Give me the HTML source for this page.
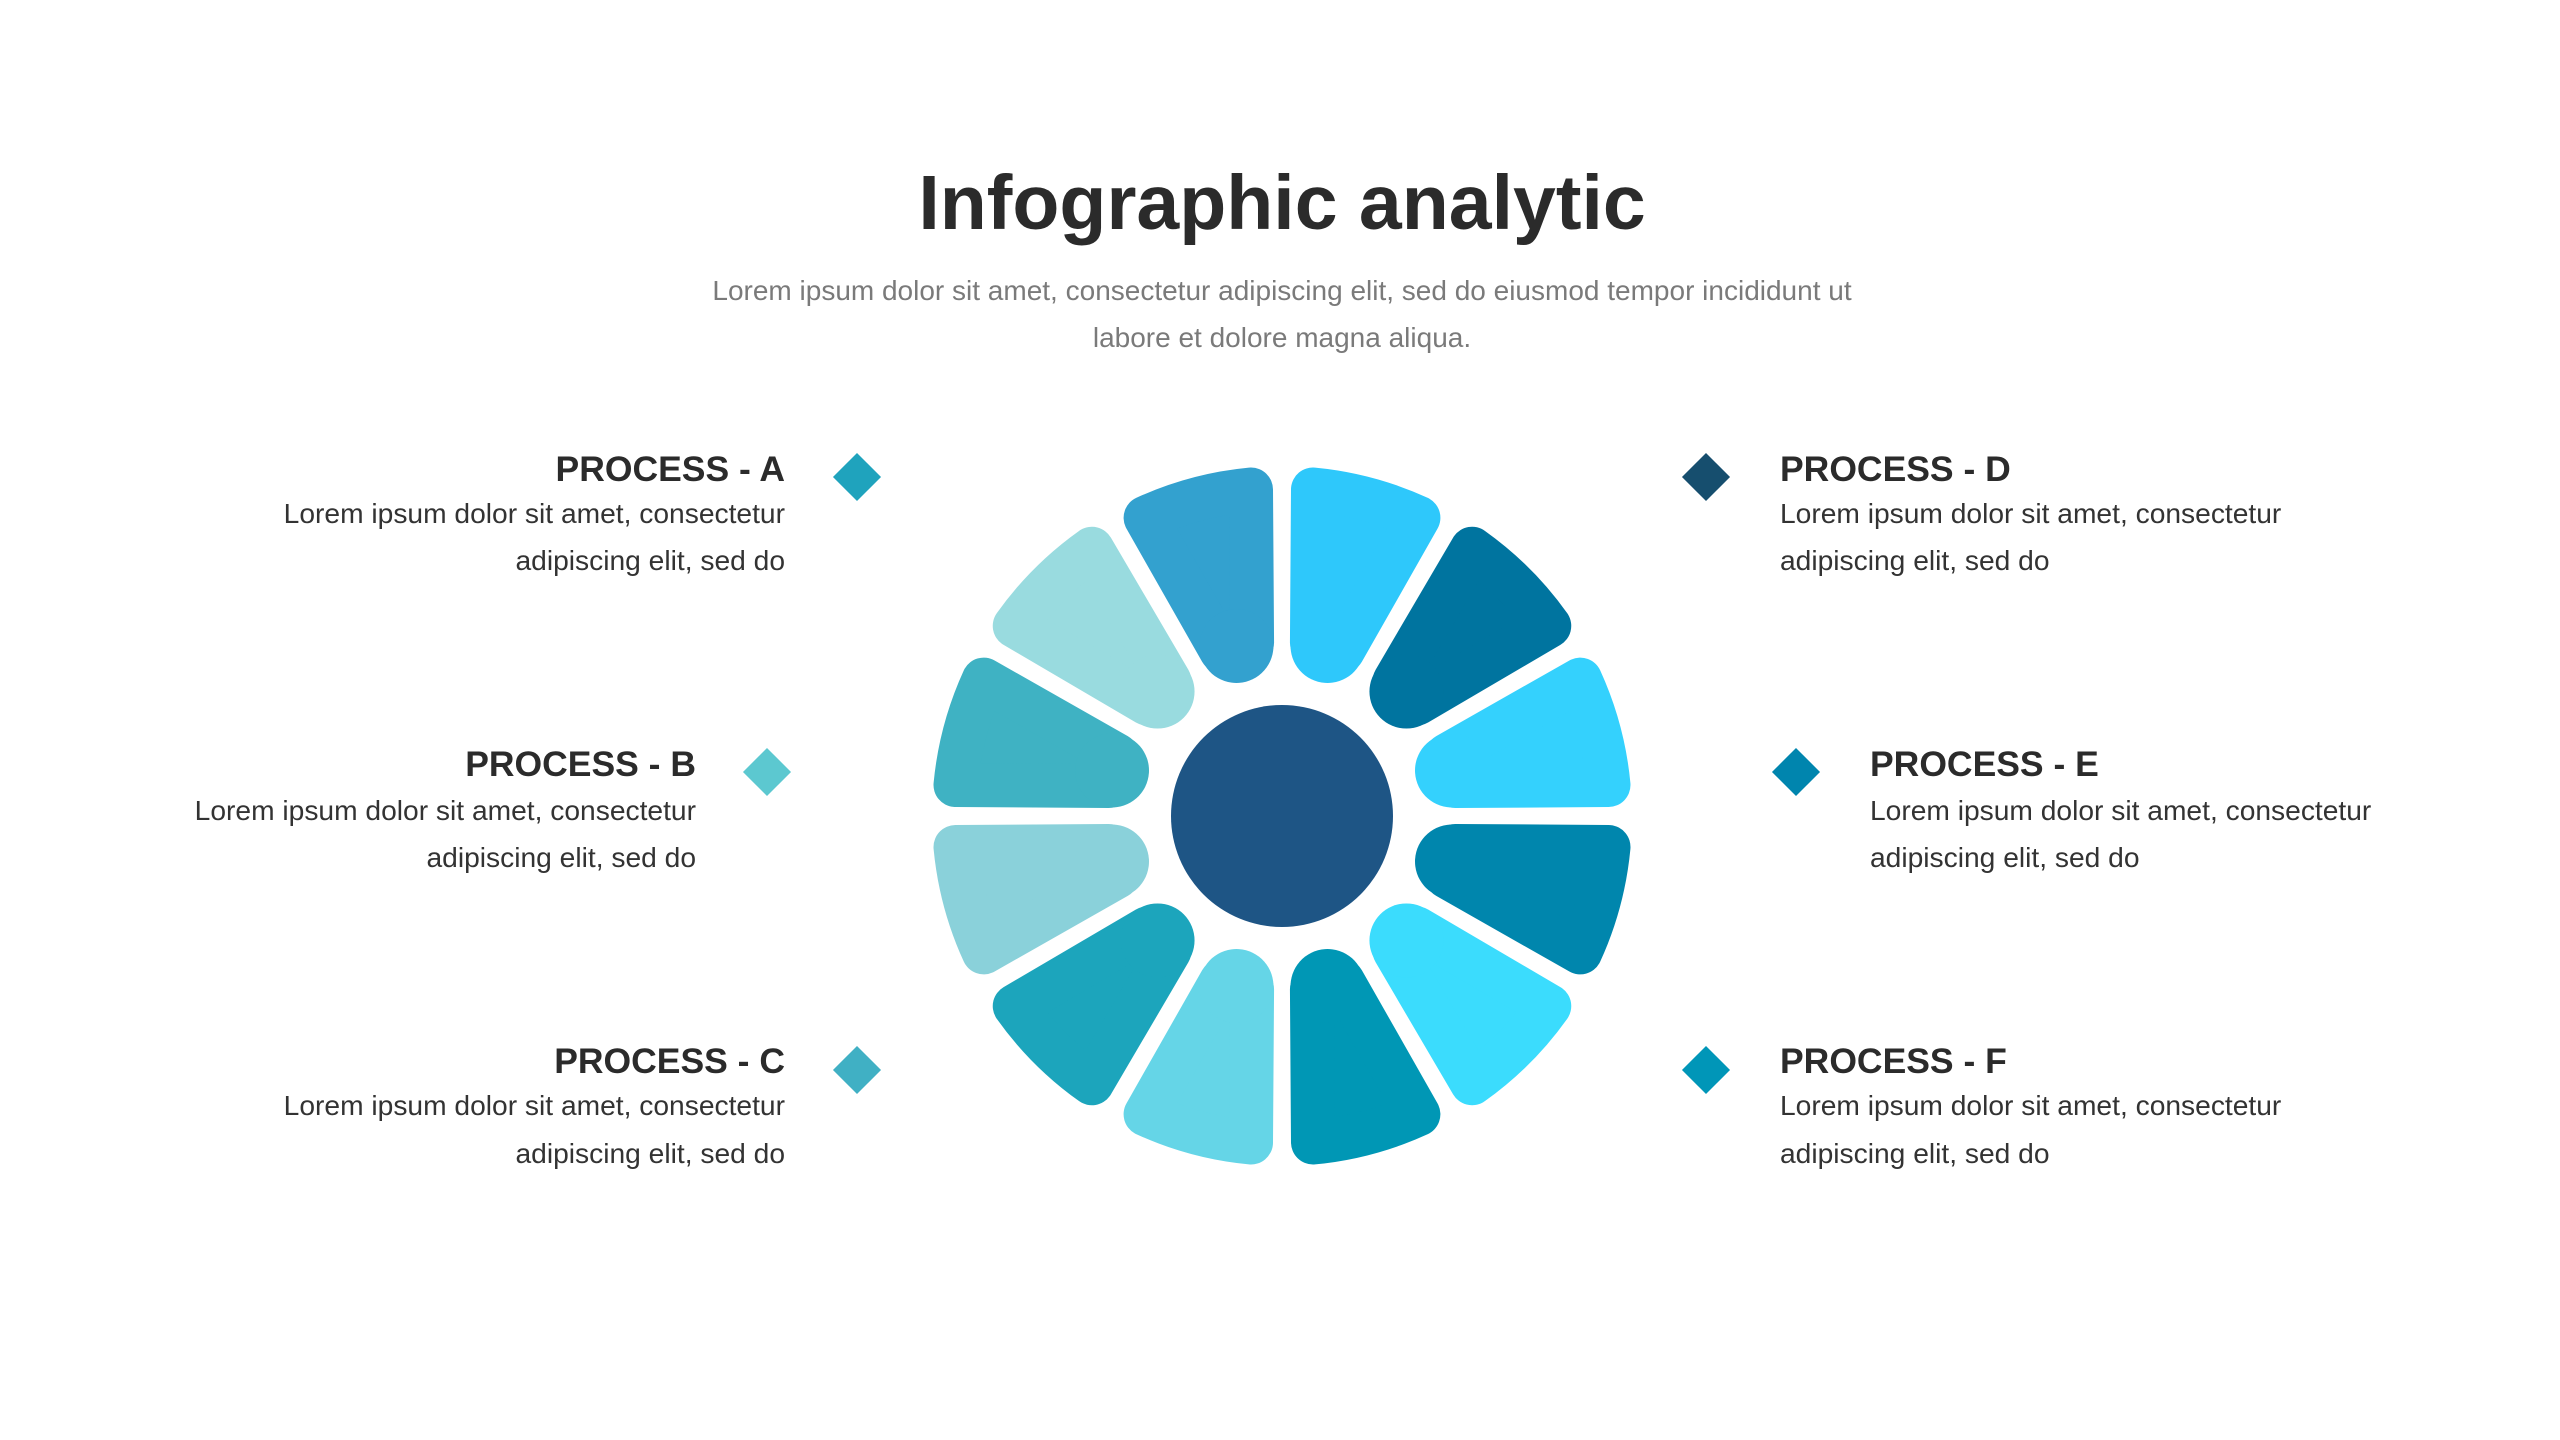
<!DOCTYPE html>
<html><head><meta charset="utf-8">
<style>
html,body{margin:0;padding:0;background:#fff;}
body{width:2560px;height:1440px;position:relative;overflow:hidden;font-family:"Liberation Sans",sans-serif;}
.t{position:absolute;white-space:nowrap;line-height:40px;}
.h{font-weight:bold;font-size:35.5px;color:#2b2b2b;}
.b{font-size:28.2px;color:#333;}
.r{text-align:right;}
.dm{position:absolute;width:34px;height:34px;transform:translate(-50%,-50%) rotate(45deg);}
</style></head><body>
<div class="t" style="left:0;width:2564px;text-align:center;top:163px;line-height:80px;font-size:77px;font-weight:bold;color:#2b2b2b;">Infographic analytic</div>
<div class="t" style="left:0;width:2564px;text-align:center;top:271px;font-size:28px;color:#7a7a7a;">Lorem ipsum dolor sit amet, consectetur adipiscing elit, sed do eiusmod tempor incididunt ut</div>
<div class="t" style="left:0;width:2564px;text-align:center;top:318px;font-size:28px;color:#7a7a7a;">labore et dolore magna aliqua.</div>

<div class="t h r" style="right:1775px;top:449px;">PROCESS - A</div>
<div class="t b r" style="right:1775px;top:493px;">Lorem ipsum dolor sit amet, consectetur</div>
<div class="t b r" style="right:1775px;top:540px;">adipiscing elit, sed do</div>

<div class="t h r" style="right:1864px;top:744px;">PROCESS - B</div>
<div class="t b r" style="right:1864px;top:790px;">Lorem ipsum dolor sit amet, consectetur</div>
<div class="t b r" style="right:1864px;top:837px;">adipiscing elit, sed do</div>

<div class="t h r" style="right:1775px;top:1041px;">PROCESS - C</div>
<div class="t b r" style="right:1775px;top:1085px;">Lorem ipsum dolor sit amet, consectetur</div>
<div class="t b r" style="right:1775px;top:1133px;">adipiscing elit, sed do</div>

<div class="t h" style="left:1780px;top:449px;">PROCESS - D</div>
<div class="t b" style="left:1780px;top:493px;">Lorem ipsum dolor sit amet, consectetur</div>
<div class="t b" style="left:1780px;top:540px;">adipiscing elit, sed do</div>

<div class="t h" style="left:1870px;top:744px;">PROCESS - E</div>
<div class="t b" style="left:1870px;top:790px;">Lorem ipsum dolor sit amet, consectetur</div>
<div class="t b" style="left:1870px;top:837px;">adipiscing elit, sed do</div>

<div class="t h" style="left:1780px;top:1041px;">PROCESS - F</div>
<div class="t b" style="left:1780px;top:1085px;">Lorem ipsum dolor sit amet, consectetur</div>
<div class="t b" style="left:1780px;top:1133px;">adipiscing elit, sed do</div>

<div class="dm" style="left:857px;top:477px;background:#1fa3bd;"></div>
<div class="dm" style="left:767px;top:772px;background:#5cc8d0;"></div>
<div class="dm" style="left:857px;top:1070px;background:#40b0c4;"></div>
<div class="dm" style="left:1706px;top:477px;background:#164e6e;"></div>
<div class="dm" style="left:1796px;top:772px;background:#0085ae;"></div>
<div class="dm" style="left:1706px;top:1070px;background:#0096b8;"></div>

<svg width="2560" height="1440" style="position:absolute;left:0;top:0;">
<defs>
<g id="p">
<path d="M -15.95 -175.2 L 15.95 -175.2 L 54.56 -323.39 A 328 328 0 0 0 -54.56 -323.39 Z" stroke-width="44" stroke-linejoin="round"/>
<circle cx="0" cy="-176" r="37" stroke="none"/>
</g>
</defs>
<g transform="translate(1282,816)">
<use href="#p" transform="rotate(15)" fill="#2ec8fb" stroke="#2ec8fb"/>
<use href="#p" transform="rotate(45)" fill="#00749f" stroke="#00749f"/>
<use href="#p" transform="rotate(75)" fill="#34d1fd" stroke="#34d1fd"/>
<use href="#p" transform="rotate(105)" fill="#0086ad" stroke="#0086ad"/>
<use href="#p" transform="rotate(135)" fill="#3bdcfd" stroke="#3bdcfd"/>
<use href="#p" transform="rotate(165)" fill="#0097b5" stroke="#0097b5"/>
<use href="#p" transform="rotate(195)" fill="#65d5e7" stroke="#65d5e7"/>
<use href="#p" transform="rotate(225)" fill="#1ca5bc" stroke="#1ca5bc"/>
<use href="#p" transform="rotate(255)" fill="#8ad1da" stroke="#8ad1da"/>
<use href="#p" transform="rotate(285)" fill="#3fb2c3" stroke="#3fb2c3"/>
<use href="#p" transform="rotate(315)" fill="#99dbdf" stroke="#99dbdf"/>
<use href="#p" transform="rotate(345)" fill="#33a1cf" stroke="#33a1cf"/>
<circle cx="0" cy="0" r="111" fill="#1e5585"/>
</g>
</svg>
</body></html>
